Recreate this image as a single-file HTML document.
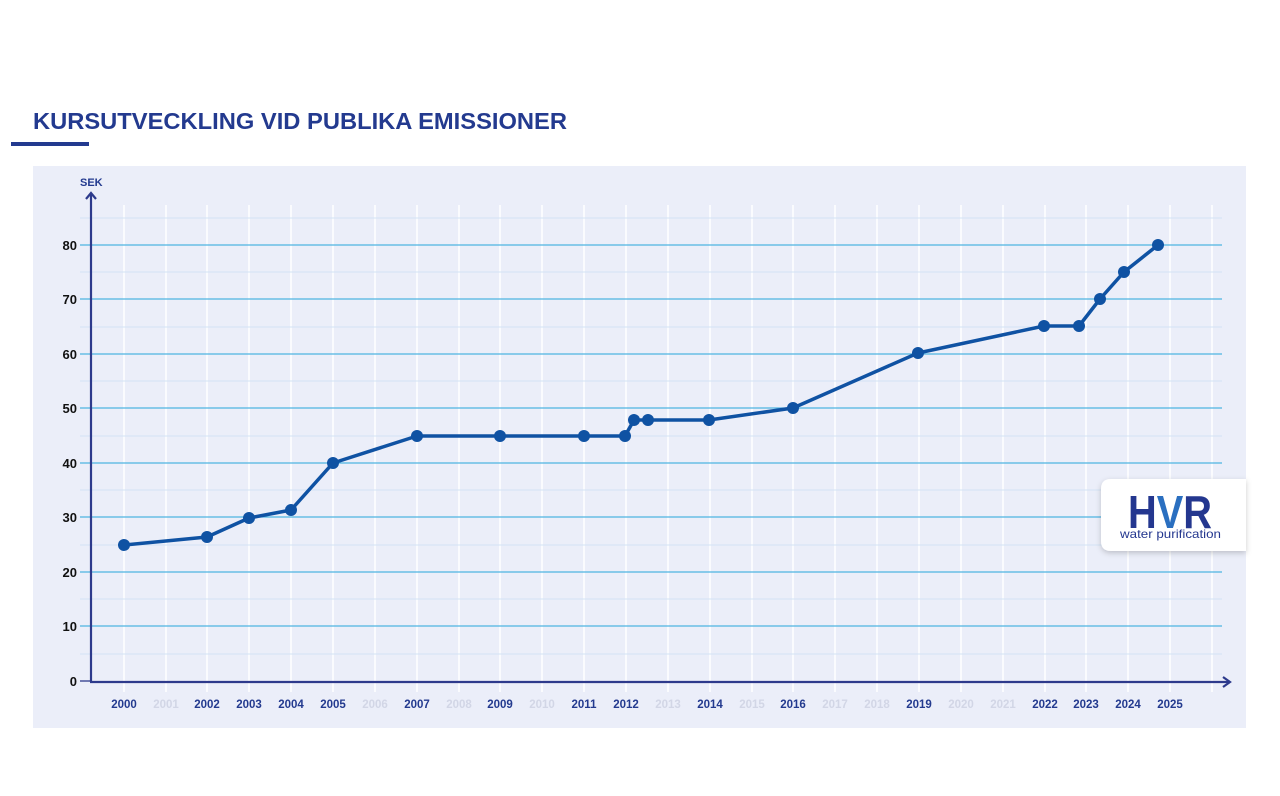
<!DOCTYPE html>
<html><head><meta charset="utf-8"><style>
body{margin:0;background:#fff;width:1280px;height:791px;overflow:hidden;font-family:"Liberation Sans",sans-serif}
</style></head><body>
<svg width="1280" height="791" xmlns="http://www.w3.org/2000/svg" font-family="Liberation Sans, sans-serif">
<defs><filter id="sh" x="-20%" y="-20%" width="140%" height="150%"><feDropShadow dx="0" dy="2" stdDeviation="3" flood-color="#000" flood-opacity="0.2"/></filter></defs>
<text x="33" y="129" font-size="23" font-weight="bold" fill="#233a8f" textLength="534" lengthAdjust="spacingAndGlyphs">KURSUTVECKLING VID PUBLIKA EMISSIONER</text>
<rect x="11" y="142" width="78" height="4" fill="#233a8f"/>
<rect x="33" y="166" width="1213" height="562" fill="#ebeef9"/>
<g stroke="#fff" stroke-width="1.5">
<line x1="124" y1="205" x2="124" y2="692"/><line x1="166" y1="205" x2="166" y2="692"/><line x1="207" y1="205" x2="207" y2="692"/><line x1="249" y1="205" x2="249" y2="692"/><line x1="291" y1="205" x2="291" y2="692"/><line x1="333" y1="205" x2="333" y2="692"/><line x1="375" y1="205" x2="375" y2="692"/><line x1="417" y1="205" x2="417" y2="692"/><line x1="459" y1="205" x2="459" y2="692"/><line x1="500" y1="205" x2="500" y2="692"/><line x1="542" y1="205" x2="542" y2="692"/><line x1="584" y1="205" x2="584" y2="692"/><line x1="626" y1="205" x2="626" y2="692"/><line x1="668" y1="205" x2="668" y2="692"/><line x1="710" y1="205" x2="710" y2="692"/><line x1="752" y1="205" x2="752" y2="692"/><line x1="793" y1="205" x2="793" y2="692"/><line x1="835" y1="205" x2="835" y2="692"/><line x1="877" y1="205" x2="877" y2="692"/><line x1="919" y1="205" x2="919" y2="692"/><line x1="961" y1="205" x2="961" y2="692"/><line x1="1003" y1="205" x2="1003" y2="692"/><line x1="1045" y1="205" x2="1045" y2="692"/><line x1="1086" y1="205" x2="1086" y2="692"/><line x1="1128" y1="205" x2="1128" y2="692"/><line x1="1170" y1="205" x2="1170" y2="692"/><line x1="1212" y1="205" x2="1212" y2="692"/>
</g>
<g stroke="#d3e3f5" stroke-width="1">
<line x1="80" y1="218" x2="1222" y2="218"/><line x1="80" y1="272" x2="1222" y2="272"/><line x1="80" y1="327" x2="1222" y2="327"/><line x1="80" y1="381" x2="1222" y2="381"/><line x1="80" y1="436" x2="1222" y2="436"/><line x1="80" y1="490" x2="1222" y2="490"/><line x1="80" y1="545" x2="1222" y2="545"/><line x1="80" y1="599" x2="1222" y2="599"/><line x1="80" y1="654" x2="1222" y2="654"/>
</g>
<g stroke="#4db4e2" stroke-width="1.3">
<line x1="80" y1="245" x2="1222" y2="245"/><line x1="80" y1="299" x2="1222" y2="299"/><line x1="80" y1="354" x2="1222" y2="354"/><line x1="80" y1="408" x2="1222" y2="408"/><line x1="80" y1="463" x2="1222" y2="463"/><line x1="80" y1="517" x2="1222" y2="517"/><line x1="80" y1="572" x2="1222" y2="572"/><line x1="80" y1="626" x2="1222" y2="626"/>
</g>
<line x1="80" y1="681" x2="90" y2="681" stroke="#2d3a8c" stroke-width="1.3"/>
<g stroke="#2d3a8c" stroke-width="2.2" fill="none">
<line x1="91" y1="193" x2="91" y2="682"/><polyline points="86,199 91,193 96,199"/>
<line x1="90" y1="682" x2="1230" y2="682"/><polyline points="1223,677 1230,682 1223,687"/>
</g>
<text x="80" y="186" font-size="11" font-weight="bold" fill="#233a8f">SEK</text>
<g font-size="13" font-weight="bold" fill="#111" text-anchor="end">
<text x="77" y="250">80</text><text x="77" y="304">70</text><text x="77" y="359">60</text><text x="77" y="413">50</text><text x="77" y="468">40</text><text x="77" y="522">30</text><text x="77" y="577">20</text><text x="77" y="631">10</text><text x="77" y="686">0</text>
</g>
<g font-size="11.5" font-weight="bold" fill="#233a8f" text-anchor="middle">
<text x="124" y="708">2000</text><text x="166" y="708" fill="#d2d6e6">2001</text><text x="207" y="708">2002</text><text x="249" y="708">2003</text><text x="291" y="708">2004</text><text x="333" y="708">2005</text><text x="375" y="708" fill="#d2d6e6">2006</text><text x="417" y="708">2007</text><text x="459" y="708" fill="#d2d6e6">2008</text><text x="500" y="708">2009</text><text x="542" y="708" fill="#d2d6e6">2010</text><text x="584" y="708">2011</text><text x="626" y="708">2012</text><text x="668" y="708" fill="#d2d6e6">2013</text><text x="710" y="708">2014</text><text x="752" y="708" fill="#d2d6e6">2015</text><text x="793" y="708">2016</text><text x="835" y="708" fill="#d2d6e6">2017</text><text x="877" y="708" fill="#d2d6e6">2018</text><text x="919" y="708">2019</text><text x="961" y="708" fill="#d2d6e6">2020</text><text x="1003" y="708" fill="#d2d6e6">2021</text><text x="1045" y="708">2022</text><text x="1086" y="708">2023</text><text x="1128" y="708">2024</text><text x="1170" y="708">2025</text>
</g>
<polyline fill="none" stroke="#0f52a3" stroke-width="3.5" stroke-linejoin="round" points="124,545 207,537 249,518 291,510 333,463 417,436 500,436 584,436 625,436 634,420 648,420 709,420 793,408 918,353 1044,326 1079,326 1100,299 1124,272 1158,245"/>
<g fill="#0f52a3">
<circle cx="124" cy="545" r="6"/><circle cx="207" cy="537" r="6"/><circle cx="249" cy="518" r="6"/><circle cx="291" cy="510" r="6"/><circle cx="333" cy="463" r="6"/><circle cx="417" cy="436" r="6"/><circle cx="500" cy="436" r="6"/><circle cx="584" cy="436" r="6"/><circle cx="625" cy="436" r="6"/><circle cx="634" cy="420" r="6"/><circle cx="648" cy="420" r="6"/><circle cx="709" cy="420" r="6"/><circle cx="793" cy="408" r="6"/><circle cx="918" cy="353" r="6"/><circle cx="1044" cy="326" r="6"/><circle cx="1079" cy="326" r="6"/><circle cx="1100" cy="299" r="6"/><circle cx="1124" cy="272" r="6"/><circle cx="1158" cy="245" r="6"/>
</g>
<path d="M1111,479 H1246 V551 H1111 Q1101,551 1101,541 V489 Q1101,479 1111,479 Z" fill="#fff" filter="url(#sh)"/>
<text x="1128" y="528" font-size="46" font-weight="bold" fill="#24378f" textLength="84" lengthAdjust="spacingAndGlyphs">H<tspan fill="#2a6fc0">V</tspan>R</text>
<text x="1120" y="538" font-size="12" fill="#24378f" textLength="101" lengthAdjust="spacingAndGlyphs">water purification</text>
</svg>
</body></html>
